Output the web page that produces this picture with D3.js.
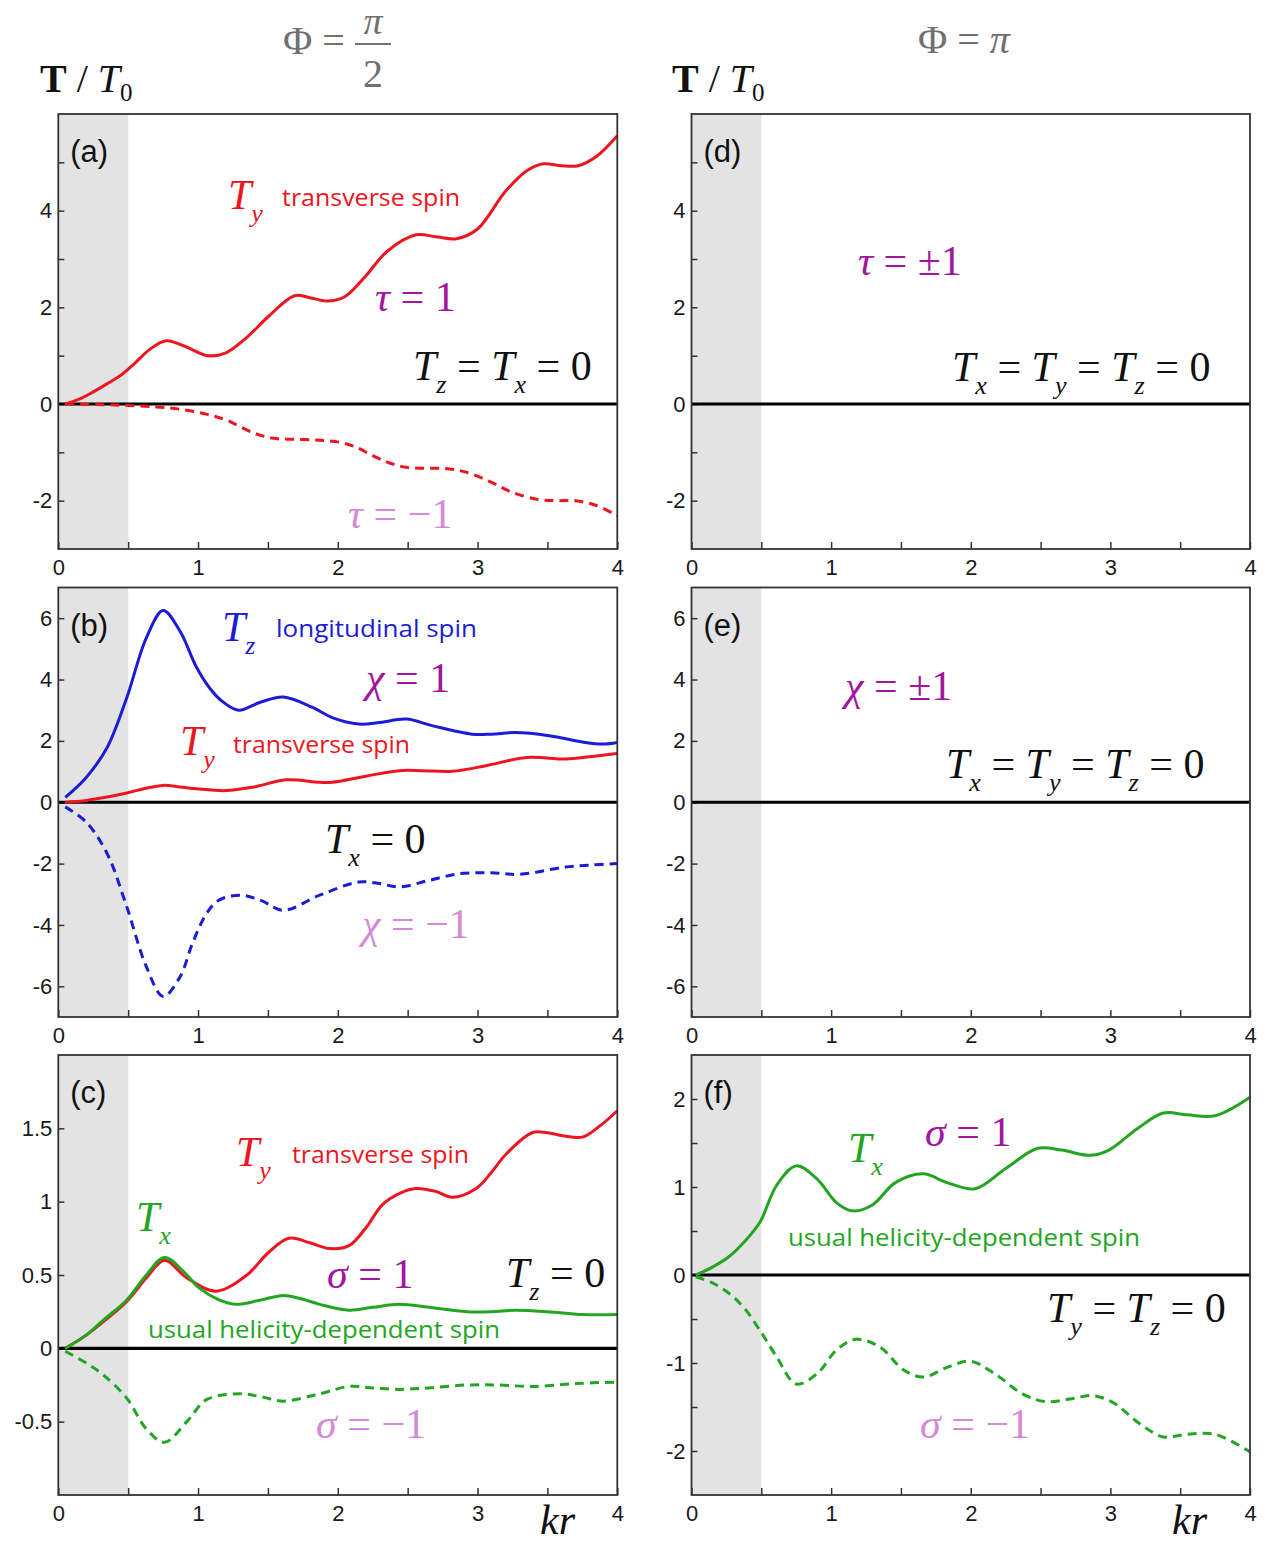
<!DOCTYPE html>
<html>
<head>
<meta charset="utf-8">
<script src="https://d3js.org/d3.v7.min.js"></script>
<style>
  body { margin: 0; background: #fff; }
  .tick text { font-family: "Liberation Sans", Arial, sans-serif; font-size: 22px; fill: #1a1a1a; }
  .tick line { stroke: #333; stroke-width: 1.5; }
</style>
</head>
<body>
<script>
// ---- data (kr, T/T0) ----
// panel (a): Phi = pi/2, tau = +-1
var krA1 = [0.05,0.15,0.25,0.35,0.45,0.55,0.65,0.77,0.9,1.07,1.2,1.35,1.5,1.69,1.8,1.92,2.05,2.2,2.35,2.56,2.7,2.85,3.0,3.2,3.35,3.47,3.6,3.72,3.85,4.0];
var tyA1 = [0.0,0.1,0.25,0.42,0.6,0.85,1.12,1.31,1.2,1.0,1.06,1.38,1.8,2.24,2.2,2.13,2.22,2.65,3.15,3.5,3.46,3.42,3.62,4.4,4.82,4.97,4.93,4.93,5.12,5.55];
var krA2 = [0.05,0.4,0.7,0.9,1.06,1.2,1.39,1.54,1.7,1.87,2.01,2.12,2.25,2.37,2.49,2.62,2.75,2.86,2.96,3.1,3.25,3.44,3.57,3.7,3.85,4.0];
var tyA2 = [0,-0.02,-0.06,-0.12,-0.21,-0.33,-0.59,-0.71,-0.73,-0.75,-0.79,-0.88,-1.07,-1.22,-1.31,-1.33,-1.33,-1.37,-1.45,-1.62,-1.83,-1.98,-2.0,-2.0,-2.1,-2.31];

// panel (b): chi = +-1
var krB1 = [0.05,0.2,0.35,0.49,0.63,0.75,0.87,0.99,1.08,1.17,1.29,1.44,1.61,1.82,1.96,2.15,2.3,2.49,2.68,2.96,3.1,3.27,3.51,3.77,3.9,4.0];
var tzB1 = [0.16,0.81,1.79,3.41,5.36,6.25,5.58,4.39,3.74,3.3,3.0,3.25,3.43,3.09,2.76,2.55,2.6,2.71,2.49,2.22,2.22,2.27,2.17,1.95,1.9,1.95];
var krB2 = [0.05,0.2,0.35,0.49,0.63,0.75,0.87,0.96,1.06,1.15,1.31,1.45,1.61,1.87,2.15,2.3,2.44,2.65,2.87,3.1,3.3,3.63,3.8,4.0];
var tzB2 = [-0.15,-0.65,-1.68,-3.41,-5.36,-6.33,-5.7,-4.6,-3.63,-3.19,-3.03,-3.2,-3.52,-3.03,-2.6,-2.65,-2.76,-2.55,-2.33,-2.3,-2.35,-2.11,-2.05,-2.0];
var krB3 = [0.05,0.2,0.35,0.49,0.62,0.75,0.87,0.99,1.2,1.4,1.63,1.87,1.96,2.2,2.44,2.6,2.82,3.06,3.35,3.63,3.8,4.0];
var tyB3 = [0,0.06,0.17,0.3,0.45,0.55,0.5,0.44,0.38,0.5,0.73,0.65,0.65,0.85,1.03,1.03,1.01,1.19,1.46,1.41,1.48,1.59];

// panel (c): sigma = +-1
var krC1 = [0.05,0.2,0.32,0.49,0.63,0.76,0.92,1.13,1.35,1.5,1.65,1.8,1.94,2.08,2.2,2.32,2.45,2.56,2.7,2.82,2.99,3.1,3.2,3.39,3.5,3.61,3.75,3.88,4.0];
var tyC1 = [0,0.09,0.18,0.32,0.48,0.6,0.48,0.39,0.5,0.65,0.75,0.72,0.68,0.7,0.82,0.98,1.06,1.09,1.07,1.03,1.09,1.2,1.32,1.47,1.47,1.45,1.44,1.52,1.62];
var krC2 = [0.05,0.2,0.32,0.49,0.63,0.76,0.9,1.01,1.15,1.27,1.45,1.61,1.73,1.87,2.08,2.25,2.44,2.65,2.92,3.1,3.27,3.5,3.75,4.0];
var txC2 = [0,0.09,0.19,0.33,0.5,0.62,0.52,0.41,0.33,0.3,0.33,0.36,0.34,0.3,0.26,0.28,0.3,0.28,0.25,0.25,0.26,0.25,0.23,0.23];
var krC3 = [0.05,0.2,0.32,0.49,0.63,0.76,0.92,1.06,1.3,1.45,1.61,1.87,2.08,2.25,2.44,2.65,2.92,3.15,3.39,3.7,4.0];
var txC3 = [-0.02,-0.1,-0.18,-0.34,-0.55,-0.64,-0.5,-0.35,-0.31,-0.33,-0.36,-0.31,-0.26,-0.27,-0.28,-0.27,-0.25,-0.25,-0.26,-0.24,-0.23];

// panel (f): Phi = pi, sigma = +-1
var krF1 = [0.03,0.15,0.27,0.38,0.49,0.61,0.75,0.9,1.04,1.15,1.29,1.46,1.66,1.83,2.03,2.25,2.48,2.65,2.85,2.99,3.19,3.38,3.55,3.75,4.0];
var txF1 = [0,0.09,0.21,0.38,0.6,1.02,1.24,1.09,0.82,0.73,0.79,1.05,1.15,1.05,0.98,1.21,1.44,1.42,1.36,1.42,1.66,1.84,1.82,1.81,2.02];
var krF2 = [0.03,0.15,0.27,0.38,0.49,0.61,0.75,0.9,1.04,1.18,1.35,1.52,1.66,1.83,2.0,2.17,2.37,2.54,2.71,2.87,3.02,3.21,3.38,3.55,3.75,4.0];
var txF2 = [-0.02,-0.09,-0.21,-0.38,-0.63,-0.93,-1.24,-1.12,-0.85,-0.73,-0.82,-1.08,-1.16,-1.05,-0.98,-1.12,-1.35,-1.44,-1.41,-1.37,-1.45,-1.69,-1.84,-1.81,-1.81,-2.01];

// axis ticks
var xMajor = [0, 1, 2, 3, 4];
var xMinor = [0.5, 1.5, 2.5, 3.5];

var RED = "#ee1520", BLUE = "#1c1cd8", GREEN = "#22a622",
    PURPLE = "#a2169e", LILAC = "#d58ad8", GRAY = "#707070";
var SERIF = "'Liberation Serif', 'Times New Roman', serif";
var SANS = "'Liberation Sans', Arial, sans-serif";
var MYRIAD = "'Open Sans', 'Noto Sans', sans-serif";

var svg = d3.select("body").append("svg")
    .attr("width", 1274)
    .attr("height", 1544)
    .style("background", "#fff");

function pairs(xs, ys) {
    return xs.map(function(d, i){ return [d, ys[i]]; });
}

// draw one panel frame with axes, shading and curves
function panel(p) {
    var x = d3.scaleLinear().domain([0, 4]).range([p.left, p.right]);
    var y = d3.scaleLinear().domain(p.yDomain).range([p.bottom, p.top]);
    var g = svg.append("g");

    // grey band 0 < kr < 0.5
    g.append("rect")
        .attr("x", x(0)).attr("y", p.top)
        .attr("width", x(0.5) - x(0))
        .attr("height", p.bottom - p.top)
        .attr("fill", "#e3e3e3");

    // axes, ticks pointing inward
    var ax = g.append("g").attr("transform", "translate(0," + p.bottom + ")")
        .call(d3.axisBottom(x).tickValues(xMajor).tickSize(-7).tickPadding(10).tickFormat(function(d){ return String(d); }));
    var axm = g.append("g").attr("transform", "translate(0," + p.bottom + ")")
        .call(d3.axisBottom(x).tickValues(xMinor).tickSize(-7).tickFormat(""));
    var ay = g.append("g").attr("transform", "translate(" + p.left + ",0)")
        .call(d3.axisLeft(y).tickValues(p.yTicks).tickSize(-6).tickPadding(6).tickFormat(function(d){ return String(d); }));
    var aym = g.append("g").attr("transform", "translate(" + p.left + ",0)")
        .call(d3.axisLeft(y).tickValues(p.yMinor || []).tickSize(-6).tickFormat(""));
    [ax, axm, ay, aym].forEach(function(a){ a.select(".domain").remove(); });

    var line = d3.line()
        .x(function(d){ return x(d[0]); })
        .y(function(d){ return y(d[1]); })
        .curve(d3.curveCatmullRom.alpha(0.5));

    // zero line
    g.append("line")
        .attr("x1", x(0)).attr("x2", x(4))
        .attr("y1", y(0)).attr("y2", y(0))
        .attr("stroke", "#000").attr("stroke-width", 3.2);

    (p.series || []).forEach(function(s){
        g.append("path")
            .datum(pairs(s.x, s.y))
            .attr("d", line)
            .attr("fill", "none")
            .attr("stroke", s.color)
            .attr("stroke-width", 3)
            .attr("stroke-dasharray", s.dash ? "9,6" : null)
            .attr("stroke-linejoin", "round");
    });

    // frame
    g.append("rect")
        .attr("x", p.left).attr("y", p.top)
        .attr("width", p.right - p.left)
        .attr("height", p.bottom - p.top)
        .attr("fill", "none")
        .attr("stroke", "#333").attr("stroke-width", 1.8);

    // panel letter
    g.append("text")
        .attr("x", p.left + 12).attr("y", p.top + 48)
        .attr("font-family", SANS).attr("font-size", 31).attr("fill", "#111")
        .text(p.tag);
}

// math-like text: italic letters, "_c" makes a subscript
function math(x, y, str, size, color) {
    var t = svg.append("text")
        .attr("x", x).attr("y", y)
        .attr("font-family", SERIF)
        .attr("font-size", size)
        .attr("fill", color);
    var chars = Array.from(str), sub = false, shift = 0;
    chars.forEach(function(c){
        if (c === "_") { sub = true; return; }
        var ts = t.append("tspan").text(c === " " ? "\u00a0" : c);
        if (/[A-Za-z\u03c4\u03c7\u03c3\u03c0]/.test(c)) ts.attr("font-style", "italic");
        if (sub) {
            ts.attr("font-size", size * 0.62).attr("dy", size * 0.3);
            shift = size * 0.3; sub = false;
        } else if (shift) {
            ts.attr("dy", -shift); shift = 0;
        }
    });
    return t;
}

function words(x, y, str, len, color) {
    svg.append("text")
        .attr("x", x).attr("y", y)
        .attr("font-family", MYRIAD)
        .attr("font-size", 24)
        .attr("fill", color)
        .attr("textLength", len)
        .attr("lengthAdjust", "spacingAndGlyphs")
        .text(str);
}

var L = { left: 58.3, right: 617.3 }, R = { left: 691.5, right: 1250 };

panel({ left: L.left, right: L.right, top: 114, bottom: 549, tag: "(a)",
    yDomain: [-3, 6], yTicks: [-2, 0, 2, 4], yMinor: [-1, 1, 3, 5],
    series: [
        { x: krA2, y: tyA2, color: RED, dash: true },
        { x: krA1, y: tyA1, color: RED }
    ] });
panel({ left: R.left, right: R.right, top: 114, bottom: 549, tag: "(d)",
    yDomain: [-3, 6], yTicks: [-2, 0, 2, 4], yMinor: [-1, 1, 3, 5] });

panel({ left: L.left, right: L.right, top: 587.5, bottom: 1017, tag: "(b)",
    yDomain: [-7, 7], yTicks: [-6, -4, -2, 0, 2, 4, 6],
    series: [
        { x: krB2, y: tzB2, color: BLUE, dash: true },
        { x: krB3, y: tyB3, color: RED },
        { x: krB1, y: tzB1, color: BLUE }
    ] });
panel({ left: R.left, right: R.right, top: 587.5, bottom: 1017, tag: "(e)",
    yDomain: [-7, 7], yTicks: [-6, -4, -2, 0, 2, 4, 6] });

panel({ left: L.left, right: L.right, top: 1055, bottom: 1495, tag: "(c)",
    yDomain: [-1, 2], yTicks: [-0.5, 0, 0.5, 1, 1.5],
    series: [
        { x: krC3, y: txC3, color: GREEN, dash: true },
        { x: krC1, y: tyC1, color: RED },
        { x: krC2, y: txC2, color: GREEN }
    ] });
panel({ left: R.left, right: R.right, top: 1055, bottom: 1495, tag: "(f)",
    yDomain: [-2.5, 2.5], yTicks: [-2, -1, 0, 1, 2], yMinor: [-1.5, -0.5, 0.5, 1.5],
    series: [
        { x: krF2, y: txF2, color: GREEN, dash: true },
        { x: krF1, y: txF1, color: GREEN }
    ] });

// ---- column headers ----
function header(x) {
    var t = svg.append("text").attr("x", x).attr("y", 92)
        .attr("font-family", SERIF).attr("font-size", 40).attr("fill", "#111");
    t.append("tspan").attr("font-weight", "bold").text("T");
    t.append("tspan").text("\u00a0/\u00a0");
    t.append("tspan").attr("font-style", "italic").text("T");
    t.append("tspan").attr("font-size", 25).attr("dy", 9).text("0");
}
header(40);
header(672);

math(283, 54, "\u03a6 = ", 40, GRAY);
svg.append("text").attr("x", 373).attr("y", 34).attr("text-anchor", "middle")
    .attr("font-family", SERIF).attr("font-size", 38).attr("font-style", "italic")
    .attr("fill", GRAY).text("\u03c0");
svg.append("line").attr("x1", 355).attr("x2", 391).attr("y1", 44).attr("y2", 44)
    .attr("stroke", GRAY).attr("stroke-width", 2);
svg.append("text").attr("x", 373).attr("y", 87).attr("text-anchor", "middle")
    .attr("font-family", SERIF).attr("font-size", 40).attr("fill", GRAY).text("2");
math(918, 53, "\u03a6 = \u03c0", 40, GRAY);

// ---- panel (a) annotations ----
math(228, 209, "T_y", 42, RED);
words(282, 206, "transverse spin", 178, RED);
math(375, 311, "\u03c4 = 1", 42, PURPLE);
math(413, 380, "T_z = T_x = 0", 42, "#111");
math(348, 528, "\u03c4 = \u22121", 42, LILAC);

// ---- panel (b) ----
math(222, 641, "T_z", 42, BLUE);
words(276, 637, "longitudinal spin", 201, BLUE);
math(366, 692, "\u03c7 = 1", 42, PURPLE);
math(180, 755, "T_y", 42, RED);
words(233, 753, "transverse spin", 177, RED);
math(325, 853, "T_x = 0", 42, "#111");
math(362, 938, "\u03c7 = \u22121", 42, LILAC);

// ---- panel (c) ----
math(236, 1166, "T_y", 42, RED);
words(292, 1163, "transverse spin", 177, RED);
math(136, 1231, "T_x", 42, GREEN);
math(327, 1288, "\u03c3 = 1", 42, PURPLE);
math(506, 1287, "T_z = 0", 42, "#111");
words(148, 1338, "usual helicity-dependent spin", 352, GREEN);
math(316, 1438, "\u03c3 = \u22121", 42, LILAC);
math(540, 1534, "kr", 42, "#111");

// ---- panel (d) ----
math(858, 275, "\u03c4 = \u00b11", 42, PURPLE);
math(952, 381, "T_x = T_y = T_z = 0", 42, "#111");

// ---- panel (e) ----
math(845, 700, "\u03c7 = \u00b11", 42, PURPLE);
math(946, 778, "T_x = T_y = T_z = 0", 42, "#111");

// ---- panel (f) ----
math(848, 1162, "T_x", 42, GREEN);
math(925, 1146, "\u03c3 = 1", 42, PURPLE);
words(788, 1246, "usual helicity-dependent spin", 352, GREEN);
math(1047, 1322, "T_y = T_z = 0", 42, "#111");
math(920, 1438, "\u03c3 = \u22121", 42, LILAC);
math(1172, 1534, "kr", 42, "#111");
</script>
</body>
</html>
